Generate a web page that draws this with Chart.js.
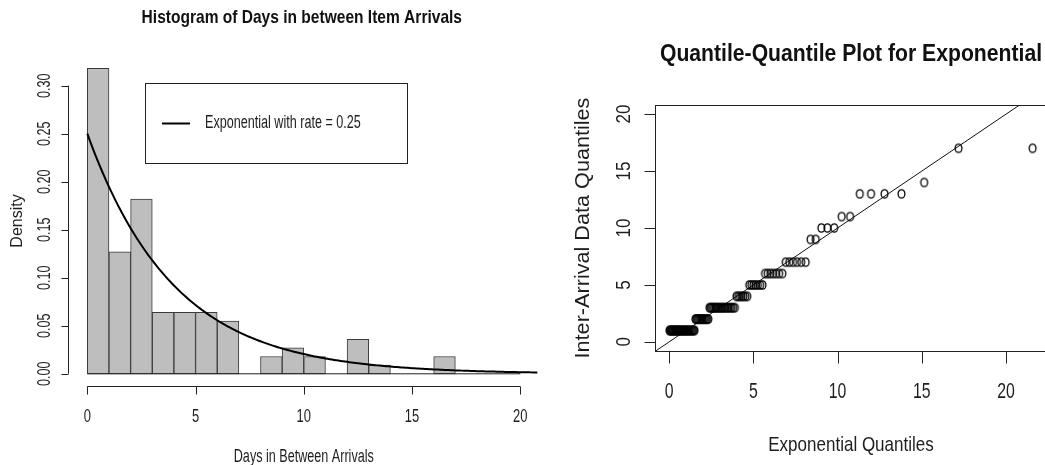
<!DOCTYPE html>
<html>
<head>
<meta charset="utf-8">
<script src="https://cdn.jsdelivr.net/npm/chart.js@4.4.1/dist/chart.umd.min.js"></script>
<style>
  html, body { margin: 0; padding: 0; background: #fff; overflow: hidden; }
  body { width: 1045px; height: 465px; position: relative; }
  canvas { position: absolute; top: 0; }
  #hist { left: 0; }
  #qq { left: 540px; }
</style>
</head>
<body>
<canvas id="hist" width="540" height="465"></canvas>
<canvas id="qq" width="512" height="465"></canvas>
<script>
// ---- Histogram of inter-arrival days (bin width 1 day) ----
const histBreaks = [0, 1, 2, 3, 4, 5, 6, 7, 8, 9, 10, 11, 12, 13, 14, 15, 16, 17, 18, 19, 20];
const histDensity = [0.318, 0.127, 0.182, 0.064, 0.064, 0.064, 0.055, 0, 0.018, 0.027,
                     0.018, 0, 0.036, 0.009, 0, 0, 0.018, 0, 0, 0];
const expRate = 0.25;
const histXTicks = [0, 5, 10, 15, 20];
const histYTicks = [0, 0.05, 0.10, 0.15, 0.20, 0.25, 0.30];
const histXRange = [-0.8, 20.8];
const histYRange = [-0.0127, 0.3309];

// ---- Q-Q plot: theoretical exponential quantiles vs sorted observed gaps ----
const expQuantiles = [
  0.018, 0.055, 0.092, 0.129, 0.167, 0.205, 0.244, 0.283, 0.322, 0.361,
  0.401, 0.442, 0.483, 0.524, 0.565, 0.608, 0.650, 0.693, 0.737, 0.781,
  0.825, 0.870, 0.915, 0.961, 1.008, 1.055, 1.103, 1.151, 1.200, 1.249,
  1.299, 1.350, 1.401, 1.453, 1.505, 1.559, 1.613, 1.668, 1.723, 1.780,
  1.837, 1.895, 1.953, 2.013, 2.074, 2.135, 2.198, 2.261, 2.326, 2.391,
  2.458, 2.526, 2.595, 2.665, 2.736, 2.809, 2.883, 2.959, 3.036, 3.114,
  3.194, 3.276, 3.359, 3.444, 3.531, 3.620, 3.711, 3.804, 3.899, 3.997,
  4.097, 4.199, 4.305, 4.413, 4.524, 4.638, 4.756, 4.877, 5.002, 5.131,
  5.264, 5.402, 5.545, 5.693, 5.847, 6.007, 6.174, 6.348, 6.530, 6.720,
  6.920, 7.131, 7.353, 7.589, 7.839, 8.105, 8.391, 8.699, 9.033, 9.396,
  9.797, 10.242, 10.742, 11.315, 11.983, 12.786, 13.791, 15.137, 17.180, 21.575
];
const arrivalGaps = [
  1, 1, 1, 1, 1, 1, 1, 1, 1, 1, 1, 1, 1, 1, 1, 1, 1, 1, 1, 1,
  1, 1, 1, 1, 1, 1, 1, 1, 1, 1, 1, 1, 1, 1, 1,
  2, 2, 2, 2, 2, 2, 2, 2, 2, 2, 2, 2, 2, 2,
  3, 3, 3, 3, 3, 3, 3, 3, 3, 3, 3, 3, 3, 3, 3, 3, 3, 3, 3, 3,
  4, 4, 4, 4, 4, 4, 4,
  5, 5, 5, 5, 5, 5, 5,
  6, 6, 6, 6, 6, 6, 6,
  7, 7, 7, 7, 7, 7,
  9, 9,
  10, 10, 10,
  11, 11,
  13, 13, 13, 13,
  14,
  17, 17
];
const qqLine = { intercept: 0, slope: 1 };
const qqXTicks = [0, 5, 10, 15, 20];
const qqYTicks = [0, 5, 10, 15, 20];
const qqXRange = [-0.84, 22.43];
const qqYRange = [-0.8, 20.8];

const FONT = '"Liberation Sans", Arial, "DejaVu Sans", sans-serif';
const INK = '#1e1e1e';

// Text with optional rotation and condensing along the reading direction.
function label(ctx, s, x, y, o) {
  ctx.save();
  ctx.translate(x, y);
  if (o.rot) ctx.rotate(o.rot);
  ctx.scale(o.along || 1, 1);
  ctx.font = (o.bold ? 'bold ' : '') + o.size + 'px ' + FONT;
  ctx.fillStyle = o.color || INK;
  ctx.textAlign = o.align || 'center';
  ctx.textBaseline = 'middle';
  ctx.fillText(s, 0, 0);
  ctx.restore();
}

// Open-circle plotting symbol
function ring(rx, ry, lw) {
  const c = document.createElement('canvas');
  const w = Math.ceil(2 * rx + lw + 2), h = Math.ceil(2 * ry + lw + 2);
  c.width = w; c.height = h;
  const g = c.getContext('2d');
  g.strokeStyle = '#000';
  g.lineWidth = lw;
  g.beginPath();
  g.ellipse(w / 2, h / 2, rx, ry, 0, 0, Math.PI * 2);
  g.stroke();
  return c;
}

// ---------------- Histogram ----------------
const barPoints = histDensity.map((d, i) => ({ x: (histBreaks[i] + histBreaks[i + 1]) / 2, y: d }));
const curvePoints = [];
for (let t = 0; t <= histXRange[1] + 1e-9; t += 0.1) {
  curvePoints.push({ x: t, y: expRate * Math.exp(-expRate * t) });
}
const baseLine = [{ x: histBreaks[0], y: 0 }, { x: histBreaks[histBreaks.length - 1], y: 0 }];

const histDecor = {
  id: 'histDecor',
  afterDraw(chart) {
    const { ctx, chartArea: a, scales: { x, y } } = chart;
    ctx.save();
    ctx.strokeStyle = '#222';
    ctx.lineWidth = 1;
    ctx.beginPath();
    // x axis
    const ay = Math.round(a.bottom) + 0.5;
    ctx.moveTo(x.getPixelForValue(histXTicks[0]), ay);
    ctx.lineTo(x.getPixelForValue(histXTicks[histXTicks.length - 1]), ay);
    histXTicks.forEach(v => {
      const px = Math.round(x.getPixelForValue(v)) + 0.5;
      ctx.moveTo(px, ay); ctx.lineTo(px, ay + 8);
    });
    // y axis
    const ax = Math.round(a.left) - 1.5;
    ctx.moveTo(ax, y.getPixelForValue(histYTicks[0]));
    ctx.lineTo(ax, y.getPixelForValue(histYTicks[histYTicks.length - 1]));
    histYTicks.forEach(v => {
      const py = Math.round(y.getPixelForValue(v)) + 0.5;
      ctx.moveTo(ax, py); ctx.lineTo(ax - 7, py);
    });
    ctx.stroke();

    histXTicks.forEach(v => label(ctx, String(v), x.getPixelForValue(v), 417, { size: 18, along: 0.72 }));
    histYTicks.forEach(v => label(ctx, v.toFixed(2), 45, y.getPixelForValue(v), { size: 18, along: 0.70, rot: -Math.PI / 2 }));

    const cx = (a.left + a.right) / 2;
    label(ctx, 'Histogram of Days in between Item Arrivals', cx - 2, 18, { size: 18.5, bold: true, along: 0.84, color: '#111' });
    label(ctx, 'Days in Between Arrivals', cx, 457, { size: 18, along: 0.70 });
    label(ctx, 'Density', 17.5, (a.top + a.bottom) / 2, { size: 16, along: 1.0, rot: -Math.PI / 2 });

    // legend
    ctx.strokeStyle = '#222';
    ctx.lineWidth = 1;
    ctx.strokeRect(145.5, 83.5, 262, 80);
    ctx.beginPath();
    ctx.lineWidth = 2;
    ctx.strokeStyle = '#000';
    ctx.moveTo(162, 123.5); ctx.lineTo(190, 123.5);
    ctx.stroke();
    label(ctx, chart.data.datasets[1].label, 205, 123.5, { size: 18, along: 0.70, align: 'left' });
    ctx.restore();
  }
};

new Chart(document.getElementById('hist'), {
  type: 'bar',
  data: {
    datasets: [
      {
        type: 'bar',
        data: barPoints,
        backgroundColor: '#bebebe',
        borderColor: '#3a3a3a',
        borderWidth: 1,
        borderSkipped: false,
        barPercentage: 1,
        categoryPercentage: 1,
        order: 3
      },
      {
        type: 'line',
        label: 'Exponential with rate = ' + expRate,
        data: curvePoints,
        borderColor: '#000',
        borderWidth: 2,
        pointRadius: 0,
        tension: 0,
        order: 1
      },
      {
        type: 'line',
        data: baseLine,
        borderColor: '#222',
        borderWidth: 1,
        pointRadius: 0,
        order: 2
      }
    ]
  },
  options: {
    responsive: false,
    animation: false,
    devicePixelRatio: 1,
    layout: { padding: { left: 70, right: 2.4, top: 56, bottom: 79 } },
    plugins: { legend: { display: false }, tooltip: { enabled: false } },
    scales: {
      x: { type: 'linear', display: false, offset: false, min: histXRange[0], max: histXRange[1] },
      y: { type: 'linear', display: false, min: histYRange[0], max: histYRange[1] }
    }
  },
  plugins: [histDecor]
});

// ---------------- Q-Q plot ----------------
const qqPoints = expQuantiles.map((q, i) => ({ x: q, y: arrivalGaps[i] }));
const refLine = qqXRange.map(v => ({ x: v, y: qqLine.intercept + qqLine.slope * v }));

const qqDecor = {
  id: 'qqDecor',
  afterDraw(chart) {
    const { ctx, chartArea: a, scales: { x, y } } = chart;
    ctx.save();
    ctx.strokeStyle = '#222';
    ctx.lineWidth = 1;
    ctx.strokeRect(Math.round(a.left) + 0.5, Math.round(a.top) + 0.5, Math.round(a.right - a.left), Math.round(a.bottom - a.top));
    ctx.beginPath();
    const ay = Math.round(a.bottom) + 0.5;
    qqXTicks.forEach(v => {
      const px = Math.round(x.getPixelForValue(v)) + 0.5;
      ctx.moveTo(px, ay); ctx.lineTo(px, ay + 12);
    });
    const ax = Math.round(a.left) + 0.5;
    qqYTicks.forEach(v => {
      const py = Math.round(y.getPixelForValue(v)) + 0.5;
      ctx.moveTo(ax, py); ctx.lineTo(ax - 11, py);
    });
    ctx.stroke();

    qqXTicks.forEach(v => label(ctx, String(v), x.getPixelForValue(v), 392, { size: 22, along: 0.72 }));
    qqYTicks.forEach(v => label(ctx, String(v), 84.5, y.getPixelForValue(v), { size: 20, along: 0.85, rot: -Math.PI / 2 }));

    const cx = (a.left + a.right) / 2;
    label(ctx, 'Quantile-Quantile Plot for Exponential', cx, 55, { size: 23, bold: true, along: 0.92, color: '#111' });
    label(ctx, 'Exponential Quantiles', cx, 445, { size: 21, along: 0.81 });
    label(ctx, 'Inter-Arrival Data Quantiles', 43, (a.top + a.bottom) / 2, { size: 21, along: 1.03, rot: -Math.PI / 2 });
    ctx.restore();
  }
};

new Chart(document.getElementById('qq'), {
  type: 'scatter',
  data: {
    datasets: [
      {
        type: 'scatter',
        data: qqPoints,
        pointStyle: ring(3.4, 4.2, 1.3),
        pointRadius: 4,
        order: 1
      },
      {
        type: 'line',
        data: refLine,
        borderColor: '#111',
        borderWidth: 1,
        pointRadius: 0,
        order: 2
      }
    ]
  },
  options: {
    responsive: false,
    animation: false,
    devicePixelRatio: 1,
    layout: { padding: { left: 115, right: 4, top: 105, bottom: 114 } },
    plugins: { legend: { display: false }, tooltip: { enabled: false } },
    scales: {
      x: { type: 'linear', display: false, min: qqXRange[0], max: qqXRange[1] },
      y: { type: 'linear', display: false, min: qqYRange[0], max: qqYRange[1] }
    }
  },
  plugins: [qqDecor]
});
</script>
</body>
</html>
